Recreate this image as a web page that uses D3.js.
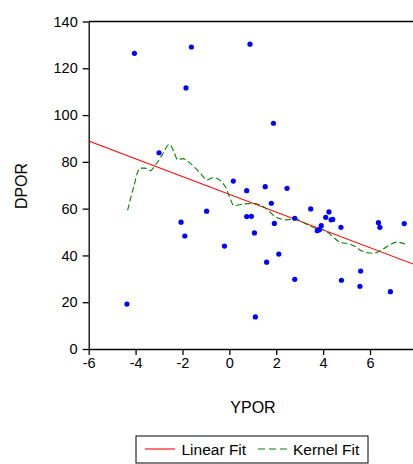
<!DOCTYPE html>
<html>
  <head>
    <meta charset="utf-8">
    <title>DPOR vs YPOR</title>
    <script src="https://d3js.org/d3.v7.min.js"></script>
    <style>
      body { margin: 0; background: #fff; }
      text { font-family: "Liberation Sans", Arial, sans-serif; fill: #000; }
      .axis .tick text { font-size: 14.5px; }
      .axis path, .axis line { stroke: #000; stroke-width: 1.3px; }
      .axis-title { font-size: 16px; }
      .legend text { font-size: 15.5px; }
    </style>
  </head>
  <body>
    <svg width="413" height="464"></svg>
    <script>
      // scatter points (YPOR, DPOR)
      const ypor = [-4.05, -1.62, -1.85, -3.0, 0.17, 0.74, 0.88, 1.88, 1.53, 2.46,
                    1.79, 3.47, -0.97, -2.06, -1.90, -0.21, -4.37, 4.25, 4.11, 4.34,
                    4.41, 0.74, 0.94, 2.79, 1.92, 3.92, 3.75, 3.84, 4.76, 6.36,
                    6.42, 7.46, 1.07, 2.11, 1.59, 5.60, 2.79, 4.78, 5.57, 6.87, 1.11];
      const dpor = [126.4, 129.1, 111.6, 83.9, 71.8, 67.7, 130.3, 96.5, 69.4, 68.7,
                    62.3, 59.9, 58.9, 54.2, 48.3, 44.0, 19.2, 58.6, 56.3, 55.2,
                    55.4, 56.6, 56.7, 55.9, 53.7, 52.7, 50.6, 51.0, 52.0, 54.0,
                    52.0, 53.6, 49.6, 40.6, 37.1, 33.3, 29.8, 29.4, 26.8, 24.5, 13.7];

      // linear fit coefficients
      const fitIntercept = 66.1;
      const fitSlope = -3.8;

      // kernel fit curve
      const kernelX = [-4.34, -4.10, -3.81, -3.60, -3.38, -3.17, -2.87, -2.55, -2.36, -2.21,
                       -2.00, -1.75, -1.46, -1.21, -0.95, -0.68, -0.48, -0.29, -0.14, -0.01,
                       0.20, 0.60, 1.02, 1.31, 1.59, 1.95, 2.45, 2.80, 3.23, 3.65,
                       3.91, 4.22, 4.47, 4.72, 5.15, 5.40, 5.65, 6.14, 6.57, 6.85,
                       7.14, 7.49];
      const kernelY = [59.3, 68.6, 77.3, 77.3, 76.2, 78.4, 82.9, 87.5, 84.2, 80.9,
                       81.4, 80.1, 77.4, 74.8, 72.3, 73.2, 72.7, 71.0, 68.8, 65.4,
                       61.3, 62.0, 62.2, 61.6, 59.9, 56.6, 55.2, 55.5, 53.7, 51.7,
                       51.3, 49.7, 47.5, 45.6, 44.8, 43.6, 41.9, 40.9, 42.8, 44.5,
                       45.7, 44.9];

      const xTicks = [-6, -4, -2, 0, 2, 4, 6];
      const yTicks = [0, 20, 40, 60, 80, 100, 120, 140];

      const svg = d3.select("svg");
      const plotLeft = 88.7, plotRight = 416.9, plotTop = 21.5, plotBottom = 349;

      const x = d3.scaleLinear().domain([-6, 8]).range([plotLeft, plotRight]);
      const y = d3.scaleLinear().domain([0, 140]).range([plotBottom, plotTop]);

      // frame top line
      svg.append("line")
        .attr("x1", plotLeft).attr("x2", plotRight)
        .attr("y1", plotTop).attr("y2", plotTop)
        .attr("stroke", "#000").attr("stroke-width", 1.3);

      // plain hyphen for negatives, like the reference
      const plainFormat = d => String(d);

      svg.append("g")
        .attr("class", "axis")
        .attr("transform", `translate(0, ${plotBottom})`)
        .call(d3.axisBottom(x).tickValues(xTicks).tickSize(6).tickPadding(3).tickSizeOuter(0)
          .tickFormat(plainFormat));

      svg.append("g")
        .attr("class", "axis")
        .attr("transform", `translate(${plotLeft}, 0)`)
        .call(d3.axisLeft(y).tickValues(yTicks).tickSize(6).tickPadding(5).tickSizeOuter(0)
          .tickFormat(plainFormat));

      // linear fit
      const fitLine = d3.line()
        .x(d => x(d))
        .y(d => y(fitIntercept + fitSlope * d));
      svg.append("path")
        .datum(x.domain())
        .attr("d", fitLine)
        .attr("fill", "none")
        .attr("stroke", "#ff0000")
        .attr("stroke-width", 1.1);

      // kernel fit
      const kernelLine = d3.line()
        .x((d, i) => x(kernelX[i]))
        .y((d, i) => y(kernelY[i]))
        .curve(d3.curveMonotoneX);
      svg.append("path")
        .datum(kernelX)
        .attr("d", kernelLine)
        .attr("fill", "none")
        .attr("stroke", "#008000")
        .attr("stroke-width", 1.1)
        .attr("stroke-dasharray", "6,3");

      // points
      svg.append("g")
        .selectAll("circle")
        .data(ypor)
        .enter().append("circle")
          .attr("cx", d => x(d))
          .attr("cy", (d, i) => y(dpor[i]))
          .attr("r", 2.6)
          .attr("fill", "#0000ff");

      // axis titles
      svg.append("text")
        .attr("class", "axis-title")
        .attr("x", 253)
        .attr("y", 413)
        .attr("text-anchor", "middle")
        .text("YPOR");

      svg.append("text")
        .attr("class", "axis-title")
        .attr("transform", "translate(26.5, 186) rotate(-90)")
        .attr("text-anchor", "middle")
        .text("DPOR");

      // legend
      const legend = svg.append("g").attr("class", "legend");
      legend.append("rect")
        .attr("x", 136).attr("y", 436)
        .attr("width", 232).attr("height", 27)
        .attr("fill", "#fff")
        .attr("stroke", "#000")
        .attr("stroke-width", 1);
      legend.append("line")
        .attr("x1", 145).attr("x2", 175)
        .attr("y1", 449).attr("y2", 449)
        .attr("stroke", "#ff0000").attr("stroke-width", 1.1);
      legend.append("text")
        .attr("x", 181.5).attr("y", 454.5)
        .text("Linear Fit");
      legend.append("line")
        .attr("x1", 258).attr("x2", 287)
        .attr("y1", 449).attr("y2", 449)
        .attr("stroke", "#008000").attr("stroke-width", 1.1)
        .attr("stroke-dasharray", "7,4");
      legend.append("text")
        .attr("x", 293).attr("y", 454.5)
        .text("Kernel Fit");
    </script>
  </body>
</html>
